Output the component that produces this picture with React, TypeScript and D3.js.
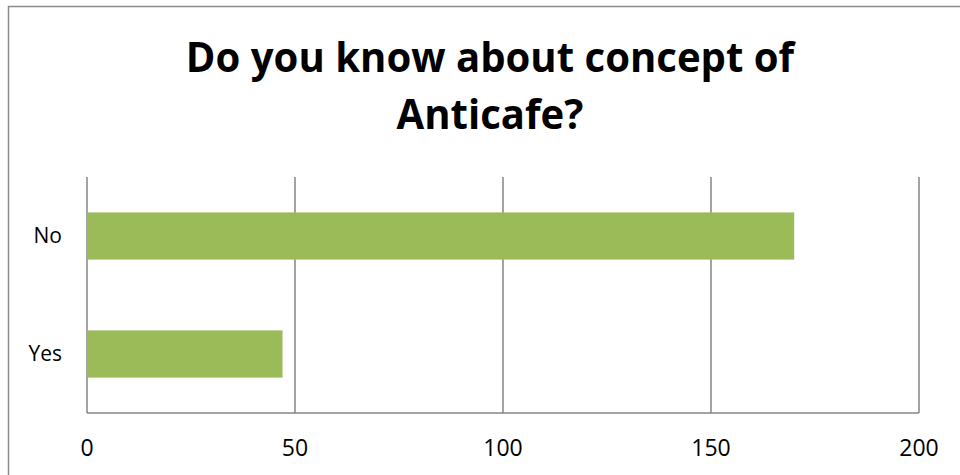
import React from "react";
import * as d3 from "d3";

const categories = ["No", "Yes"];
const values = [170, 47];
const xTicks = [0, 50, 100, 150, 200];
const titleLines = ["Do you know about concept of", "Anticafe?"];

const W = 960;
const H = 475;
const left = 87;
const right = 919;
const top = 177;
const bottom = 413;

export default function App() {
  const x = d3.scaleLinear().domain([0, 200]).range([left, right]);
  const y = d3
    .scaleBand<string>()
    .domain(categories)
    .range([top, bottom])
    .paddingInner(0.6)
    .paddingOuter(0.3);
  const font = "'Open Sans', sans-serif";
  const grid = "#868686";
  const titleBaselines = [72, 129];
  return (
    <svg
      width={W}
      height={H}
      style={{ position: "absolute", left: 0, top: 0, background: "#fff" }}
    >
      <rect x={8.5} y={6.5} width={W + 20} height={H + 20} fill="#fff" stroke="#8a8a8a" strokeWidth={1.5} />
      {titleLines.map((t, i) => (
        <text
          key={i}
          transform={`translate(490,${titleBaselines[i]}) scale(0.955,1)`}
          x={0}
          y={0}
          textAnchor="middle"
          fontFamily={font}
          fontWeight={700}
          fontSize={42}
          fill="#000"
        >
          {t}
        </text>
      ))}
      {xTicks.map((t) => (
        <line key={"g" + t} x1={x(t)} x2={x(t)} y1={top} y2={bottom} stroke={grid} strokeWidth={1.5} />
      ))}
      <line x1={left} x2={right} y1={bottom} y2={bottom} stroke={grid} strokeWidth={1.5} />
      {categories.map((c, i) => (
        <rect
          key={c}
          x={x(0)}
          y={y(c)}
          width={x(values[i]) - x(0)}
          height={y.bandwidth()}
          fill="#9BBB59"
        />
      ))}
      {categories.map((c) => (
        <text
          key={"l" + c}
          x={62}
          y={(y(c) as number) + y.bandwidth() / 2}
          dy="0.35em"
          textAnchor="end"
          fontFamily={font}
          fontSize={21}
          fill="#000"
        >
          {c}
        </text>
      ))}
      {xTicks.map((t) => (
        <text
          key={"t" + t}
          x={x(t)}
          y={456}
          textAnchor="middle"
          fontFamily={font}
          fontSize={23}
          fill="#000"
        >
          {t}
        </text>
      ))}
    </svg>
  );
}
